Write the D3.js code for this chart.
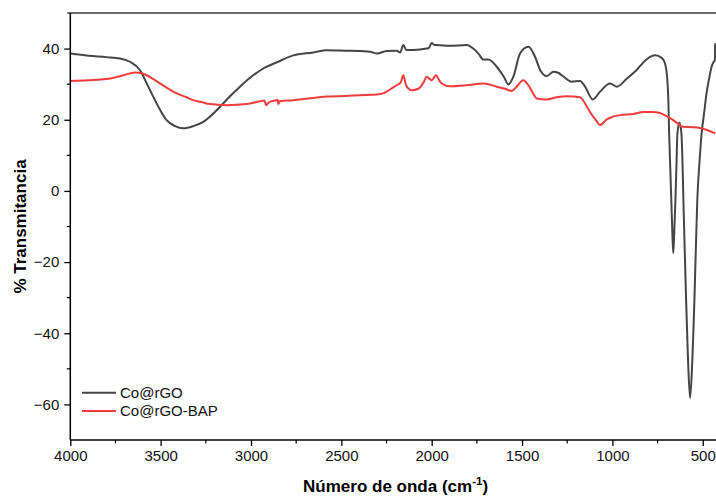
<!DOCTYPE html>
<html>
<head>
<meta charset="utf-8">
<script src="https://cdn.jsdelivr.net/npm/d3@7"></script>
<style>
  html, body { margin: 0; padding: 0; background: #fff; overflow: hidden; }
  svg { display: block; font-family: "Liberation Sans", Arial, sans-serif; }
</style>
</head>
<body>
<svg id="chart" width="716" height="498"></svg>
<script>
// ---- Data ----
const seriesNames = ["Co@rGO", "Co@rGO-BAP"];
const seriesColors = ["#454545", "#f03c3c"];

const wnCoRGO = [4000,3900,3800,3725,3670,3614,3575,3541,3500,3467,3420,3375,3320,3264,3220,3172,3120,3061,3000,2932,2850,2766,2655,2581,2480,2397,2330,2304,2249,2194,2175,2157,2140,2100,2028,2015,2000,1985,1972,1900,1806,1770,1740,1714,1687,1640,1600,1576,1548,1511,1465,1428,1400,1363,1326,1300,1280,1225,1179,1151,1109,1068,1013,976,921,866,810,764,727,710,699,690,686,680,674,668,663,658,651,645,640,629,618,612,607,600,592,585,580,570,559,552,546,538,530,518,506,492,479,465,451,440,433,431];
const tCoRGO = [38.6,38.0,37.6,37.2,36.3,33.9,30.0,26.5,22.5,19.9,18.2,17.6,18.2,19.4,21.2,23.6,26.4,29.3,32.0,34.4,36.3,38.1,38.9,39.5,39.4,39.3,39.0,38.6,39.3,39.4,38.9,41.0,39.6,39.6,40.0,40.2,41.6,41.0,41.0,40.8,41.0,40.0,38.5,36.9,36.9,34.9,32.0,29.9,32.1,38.6,40.5,37.7,34.0,32.3,33.5,33.2,32.5,30.7,30.9,29.3,25.7,27.9,30.2,29.3,31.5,34.0,37.0,38.1,37.4,36.0,33.0,25.0,16.2,7.0,-2.5,-12.0,-17.5,-12.0,-2.5,8.0,16.2,19.2,16.2,8.0,-2.5,-16.0,-30.6,-42.0,-49.3,-58.2,-49.3,-40.0,-30.6,-16.0,-2.5,8.0,16.2,22.0,27.4,31.5,34.9,36.2,36.7,41.5];

const wnBAP = [4000,3900,3780,3707,3642,3600,3577,3540,3504,3460,3411,3360,3319,3270,3227,3135,3024,2941,2925,2917,2900,2858,2852,2849,2840,2766,2680,2581,2480,2397,2304,2270,2231,2194,2172,2157,2142,2111,2074,2045,2028,2000,1976,1960,1945,1899,1806,1714,1640,1594,1557,1530,1493,1465,1440,1419,1363,1308,1253,1179,1150,1124,1090,1068,1031,1000,957,884,829,780,737,700,663,640,620,607,560,515,480,441,431];
const tBAP = [30.9,31.1,31.6,32.5,33.3,33.0,32.5,31.4,30.2,28.8,27.4,26.4,25.5,24.9,24.4,24.1,24.4,25.3,25.4,24.1,24.9,25.5,25.6,24.4,25.2,25.5,26.0,26.5,26.7,26.9,27.1,27.4,28.5,29.7,30.4,32.5,29.7,28.3,28.7,30.5,32.1,31.1,32.5,31.2,30.2,29.4,29.7,30.2,29.3,28.7,28.1,29.3,31.1,29.7,27.5,26.0,25.7,26.3,26.6,26.3,24.5,22.2,19.8,18.5,20.1,20.8,21.3,21.6,22.2,22.2,21.9,21.0,19.9,19.0,18.2,18.0,17.9,17.7,17.2,16.4,16.2];

const xTicks = [4000,3500,3000,2500,2000,1500,1000,500];
const xMinorTicks = [3750,3250,2750,2250,1750,1250,750];
const yTicks = [-60,-40,-20,0,20,40];
const yMinorTicks = [-50,-30,-10,10,30];

const xTitle = "Número de onda (cm";
const xTitleSup = "-1";
const yTitle = "% Transmitancia";

// ---- Layout ----
const svg = d3.select("#chart");
const mLeft = 70.3, mRight = 720.8, mTop = 13, mBottom = 440;

const x = d3.scaleLinear().domain([4000, 400]).range([mLeft, mRight]);
const y = d3.scaleLinear().domain([-70, 50]).range([mBottom, mTop]);

// clip
svg.append("clipPath").attr("id", "clip")
  .append("rect").attr("x", mLeft).attr("y", mTop).attr("width", mRight - mLeft).attr("height", mBottom - mTop);

// top border
svg.append("line")
  .attr("x1", mLeft - 3).attr("x2", 716).attr("y1", mTop).attr("y2", mTop)
  .attr("stroke", "#6b6b6b").attr("stroke-width", 2);

// Lines
const lineGen = d3.line().x(d => x(d[0])).y(d => y(d[1])).curve(d3.curveMonotoneX);
const data = [
  d3.zip(wnCoRGO, tCoRGO),
  d3.zip(wnBAP, tBAP)
];
const g = svg.append("g").attr("clip-path", "url(#clip)");
data.forEach((d, i) => {
  g.append("path").datum(d)
    .attr("fill", "none")
    .attr("stroke", seriesColors[i])
    .attr("stroke-width", 2)
    .attr("stroke-linejoin", "round")
    .attr("d", lineGen);
});

// X axis
const xAxis = svg.append("g").attr("transform", `translate(0,${mBottom})`)
  .call(d3.axisBottom(x).tickValues(xTicks).tickSize(6).tickPadding(4).tickFormat(d3.format("d")));
xAxis.select(".domain").attr("stroke", "#000").attr("stroke-width", 1.5).attr("d", `M${mLeft},0H716`);
xAxis.selectAll(".tick line").attr("stroke", "#000").attr("stroke-width", 1.3);
xAxis.selectAll(".tick text").attr("font-size", 15).attr("fill", "#111")
  .attr("font-family", "'Liberation Sans', Arial, sans-serif");
svg.append("g").attr("transform", `translate(0,${mBottom})`)
  .selectAll("line").data(xMinorTicks).join("line")
  .attr("x1", d => x(d)).attr("x2", d => x(d)).attr("y1", 0).attr("y2", 3.5)
  .attr("stroke", "#000").attr("stroke-width", 1.2);

// Y axis
const yAxis = svg.append("g").attr("transform", `translate(${mLeft},0)`)
  .call(d3.axisLeft(y).tickValues(yTicks).tickSize(6).tickPadding(5));
yAxis.select(".domain").attr("stroke", "#000").attr("stroke-width", 1.5).attr("d", `M0,${mBottom}V${mTop}`);
yAxis.selectAll(".tick line").attr("stroke", "#000").attr("stroke-width", 1.3);
yAxis.selectAll(".tick text").attr("font-size", 15).attr("fill", "#111")
  .attr("font-family", "'Liberation Sans', Arial, sans-serif");
svg.append("g").attr("transform", `translate(${mLeft},0)`)
  .selectAll("line").data(yMinorTicks).join("line")
  .attr("x1", 0).attr("x2", -3.5).attr("y1", d => y(d)).attr("y2", d => y(d))
  .attr("stroke", "#000").attr("stroke-width", 1.2);

// Axis titles
const xt = svg.append("text")
  .attr("x", (mLeft + mRight) / 2).attr("y", 492)
  .attr("text-anchor", "middle")
  .attr("font-size", 17).attr("font-weight", "bold").attr("fill", "#000");
xt.append("tspan").text(xTitle);
xt.append("tspan").text(xTitleSup).attr("font-size", 11.5).attr("dy", -7);
xt.append("tspan").text(")").attr("dy", 7);

svg.append("text")
  .attr("transform", `translate(26,${(mTop + mBottom) / 2}) rotate(-90)`)
  .attr("text-anchor", "middle")
  .attr("font-size", 17).attr("font-weight", "bold").attr("fill", "#000")
  .text(yTitle);

// Legend
const legendY = [392.7, 411];
seriesNames.forEach((name, i) => {
  svg.append("line")
    .attr("x1", 82).attr("x2", 116).attr("y1", legendY[i]).attr("y2", legendY[i])
    .attr("stroke", seriesColors[i]).attr("stroke-width", 2);
  svg.append("text")
    .attr("x", 120).attr("y", legendY[i]).attr("dy", "0.35em")
    .attr("font-size", 15).attr("fill", "#111")
    .text(name);
});
</script>
</body>
</html>
